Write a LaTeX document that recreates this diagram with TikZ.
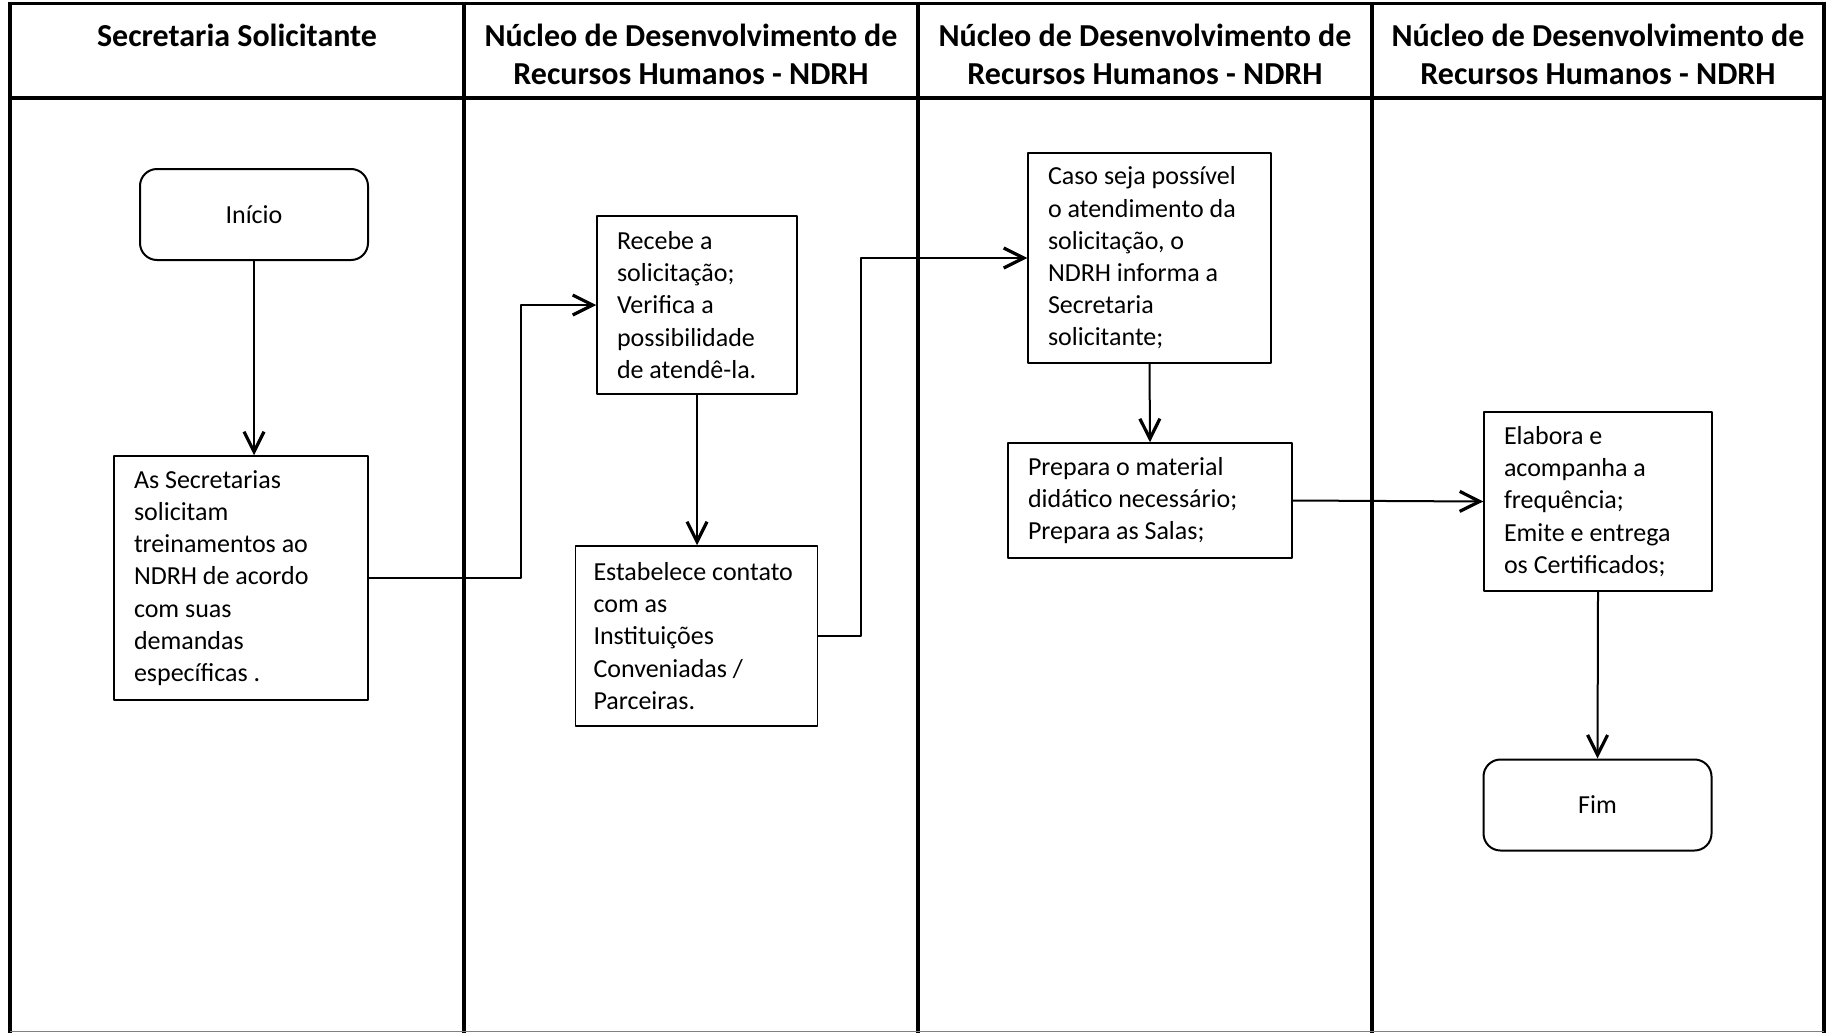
\documentclass[tikz,border=0pt]{standalone}
\usepackage{fontspec}
\setmainfont{Carlito}
\usetikzlibrary{arrows.meta}

\begin{document}
\begin{tikzpicture}[x=0.5pt, y=-0.5pt, line join=round,
    every node/.style={font=\fontsize{13}{16.1}\selectfont},
    lane/.style={line width=1.6pt},
    lanetitle/.style={font=\fontsize{16}{19.3}\selectfont\bfseries, align=center},
    task/.style={draw, line width=0.75pt, align=flush left, inner xsep=10pt, inner ysep=0pt},
    terminal/.style={draw, line width=1pt, rounded corners=8.5pt, minimum width=114pt, minimum height=45.5pt},
    flow/.style={line width=1pt, -{Straight Barb[length=10pt, width=10pt, line width=1.6pt]}}]
  \useasboundingbox (0,0) rectangle (1834,1033);
  % swimlanes
  \draw[lane] (10,3.5) -- (1824,3.5);
  \draw[lane] (10,98) -- (1824,98);
  \foreach \x in {10, 464, 918, 1372, 1824}{
    \draw[lane] (\x,2) -- (\x,1033);
  }
  \draw[gray, line width=0.5pt] (10,1031.5) -- (1824,1031.5);
  % lane titles
  \node[lanetitle] (t1) at (237,35) {Secretaria Solicitante};
  \node[lanetitle] (t2) at (691,54.5) {Núcleo de Desenvolvimento de\\Recursos Humanos - NDRH};
  \node[lanetitle] (t3) at (1145,54.5) {Núcleo de Desenvolvimento de\\Recursos Humanos - NDRH};
  \node[lanetitle] (t4) at (1598,54.5) {Núcleo de Desenvolvimento de\\Recursos Humanos - NDRH};
  % tasks
  \node[terminal] (inicio) at (254,214.5) {Início};
  \node[task, text width=107pt, minimum height=122pt] (pedido) at (241,578)
    {As Secretarias\\solicitam\\treinamentos ao\\NDRH de acordo\\com suas\\demandas\\específicas .};
  \node[task, text width=80pt, minimum height=89pt] (recebe) at (697,305)
    {Recebe a\\solicitação;\\Verifica a\\possibilidade\\de atendê-la.};
  \node[task, text width=103pt, inner xsep=9pt, minimum height=90pt] (contato) at (696.5,636)
    {Estabelece contato\\com as\\Instituições\\Conveniadas /\\Parceiras.};
  \node[task, text width=101.5pt, minimum height=105pt] (informa) at (1149.5,258)
    {Caso seja possível\\o atendimento da\\solicitação, o\\NDRH informa a\\Secretaria\\solicitante;};
  \node[task, text width=122pt, minimum height=57.5pt] (prepara) at (1150,500.5)
    {Prepara o material\\didático necessário;\\Prepara as Salas;};
  \node[task, text width=94pt, minimum height=89.5pt] (elabora) at (1598,501.5)
    {Elabora e\\acompanha a\\frequência;\\Emite e entrega\\os Certificados;};
  \node[terminal] (fim) at (1597.5,805) {Fim};
  % flow
  \draw[flow] (inicio.south) -- (inicio.south |- pedido.north);
  \draw[flow] (pedido.east) -- ++(152,0) |- (recebe.west);
  \draw[flow] (recebe.south) -- (recebe.south |- contato.north);
  \draw[flow] (contato.east) -- ++(43,0) |- (informa.west);
  \draw[flow] (informa.south) -- (prepara.north);
  \draw[flow] (prepara.east) -- (elabora.west);
  \draw[flow] (elabora.south) -- (fim.north);
\end{tikzpicture}
\end{document}
